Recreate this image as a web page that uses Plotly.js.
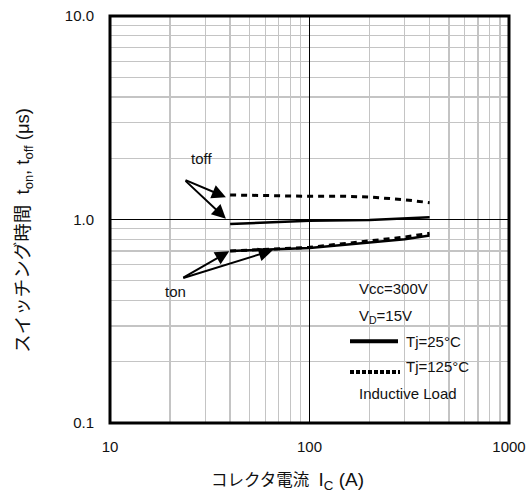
<!DOCTYPE html>
<html>
<head>
<meta charset="utf-8">
<script src="https://cdn.plot.ly/plotly-3.0.1.min.js"></script>
<style>
  html, body { margin: 0; padding: 0; background: #fff; }
  #chart { width: 530px; height: 500px; }
</style>
</head>
<body>
<div id="chart"></div>
<script>
// Collector current Ic (A)
const toff25X  = [40, 60, 100, 200, 400];
const toff25Y  = [0.95, 0.965, 0.985, 0.995, 1.025];
const toff125X = [40, 60, 100, 150, 200, 300, 400];
const toff125Y = [1.32, 1.31, 1.30, 1.30, 1.29, 1.25, 1.21];
const ton25X   = [40, 60, 100, 200, 300, 400];
const ton25Y   = [0.70, 0.71, 0.725, 0.77, 0.80, 0.835];
const ton125X  = [40, 60, 100, 200, 300, 400];
const ton125Y  = [0.70, 0.715, 0.73, 0.785, 0.82, 0.855];

const xTickVals = [10, 100, 1000];
const xTickText = ['10', '100', '1000'];
const yTickVals = [0.1, 1, 10];
const yTickText = ['0.1', '1.0', '10.0'];

const FONT = 'Liberation Sans, Arial, "Noto Sans CJK JP", sans-serif';

// minor grid at 2..9 of every decade
function minorVals(lo, hi) {
  const v = [];
  for (let d = lo; d < hi; d *= 10) {
    for (let k = 2; k <= 9; k++) v.push(k * d);
  }
  return v;
}

const solid = { color: '#000', width: 2.5 };
const dashed = { color: '#000', width: 3, dash: '6px,5px' };

const traces = [
  { x: toff25X, y: toff25Y, mode: 'lines', line: solid, name: 'toff 25°C' },
  { x: toff125X, y: toff125Y, mode: 'lines', line: dashed, name: 'toff 125°C' },
  { x: ton25X, y: ton25Y, mode: 'lines', line: solid, name: 'ton 25°C' },
  { x: ton125X, y: ton125Y, mode: 'lines', line: dashed, name: 'ton 125°C' }
];

const lg = Math.log10;

// arrows pointing from the labels to the start of each curve
function arrow(hx, hy, tx, ty) {
  return {
    xref: 'x', yref: 'y', axref: 'x', ayref: 'y',
    x: lg(hx), y: lg(hy), ax: lg(tx), ay: lg(ty),
    text: '', showarrow: true, arrowhead: 2, arrowsize: 1.4,
    arrowwidth: 2, arrowcolor: '#000', standoff: 0
  };
}

const txt = (x, y, text, xanchor) => ({
  xref: 'paper', yref: 'paper', x: x, y: y, text: text,
  showarrow: false, xanchor: xanchor || 'left', yanchor: 'middle',
  font: { family: FONT, size: 15, color: '#111' }
});

// paper coords from pixel positions inside the 110..509 x 16..423.5 plot box
const PX = p => (p - 110) / 399;
const PY = p => (423.5 - p) / 407.5;

const annotations = [
  arrow(38.1, 1.287, 23.5, 1.573),
  arrow(38.1, 1.008, 23.5, 1.573),
  arrow(39.6, 0.698, 22.9, 0.513),
  arrow(65.4, 0.706, 22.9, 0.513),
  txt(PX(201.5), PY(159), 'toff', 'center'),
  txt(PX(175), PY(291.5), 'ton', 'center'),
  txt(PX(357), PY(288.5), 'Vcc=300V'),
  txt(PX(357), PY(316.5), 'V<sub>D</sub>=15V'),
  txt(PX(404), PY(341.5), 'Tj=25°C'),
  txt(PX(404), PY(366.5), 'Tj=125°C'),
  txt(PX(357), PY(393.5), 'Inductive Load'),
  {
    xref: 'paper', yref: 'paper', x: PX(287), y: PY(481.5),
    text: 'コレクタ電流  <span style="font-size:19px">I<sub>C</sub> (A)</span>', showarrow: false,
    xanchor: 'center', yanchor: 'middle',
    font: { family: FONT, size: 16.5, color: '#111' }
  },
  {
    xref: 'paper', yref: 'paper', x: PX(24), y: PY(231),
    text: 'スイッチング時間  t<sub>on</sub>, t<sub>off</sub> (μs)', showarrow: false,
    textangle: -90, xanchor: 'center', yanchor: 'middle',
    font: { family: FONT, size: 18.5, color: '#111' }
  }
];

const shapes = [
  // plot frame
  { type: 'rect', xref: 'paper', yref: 'paper', x0: 0, x1: 1, y0: 0, y1: 1,
    line: { color: '#000', width: 3 }, layer: 'above' },
  // legend samples
  { type: 'line', xref: 'paper', yref: 'paper', x0: PX(350), x1: PX(398), y0: PY(341.7), y1: PY(341.7),
    line: { color: '#000', width: 4 } },
  { type: 'line', xref: 'paper', yref: 'paper', x0: PX(350), x1: PX(400), y0: PY(372.5), y1: PY(372.5),
    line: { color: '#000', width: 4, dash: '4px,2px' } }
];

const axisCommon = {
  type: 'log', showline: false, zeroline: false, ticks: '',
  showgrid: true, gridcolor: '#000', gridwidth: 1,
  tickfont: { family: FONT, size: 15, color: '#111' },
  automargin: false, fixedrange: true
};

const layout = {
  width: 530, height: 500,
  margin: { l: 110, r: 21, t: 16, b: 76.5 },
  paper_bgcolor: '#fff', plot_bgcolor: '#fff',
  showlegend: false,
  xaxis: Object.assign({}, axisCommon, {
    range: [1, 3], tickvals: xTickVals, ticktext: xTickText,
    ticklabelstandoff: 13,
    minor: { tickvals: minorVals(10, 1000), showgrid: true, gridcolor: '#c4c4c4', gridwidth: 1.3, ticks: '' }
  }),
  yaxis: Object.assign({}, axisCommon, {
    range: [-1, 1], tickvals: yTickVals, ticktext: yTickText,
    ticklabelstandoff: 15,
    minor: { tickvals: minorVals(0.1, 10), showgrid: true, gridcolor: '#c4c4c4', gridwidth: 1.3, ticks: '' }
  }),
  annotations: annotations,
  shapes: shapes
};

Plotly.newPlot('chart', traces, layout, { staticPlot: true, displayModeBar: false });
</script>
</body>
</html>
